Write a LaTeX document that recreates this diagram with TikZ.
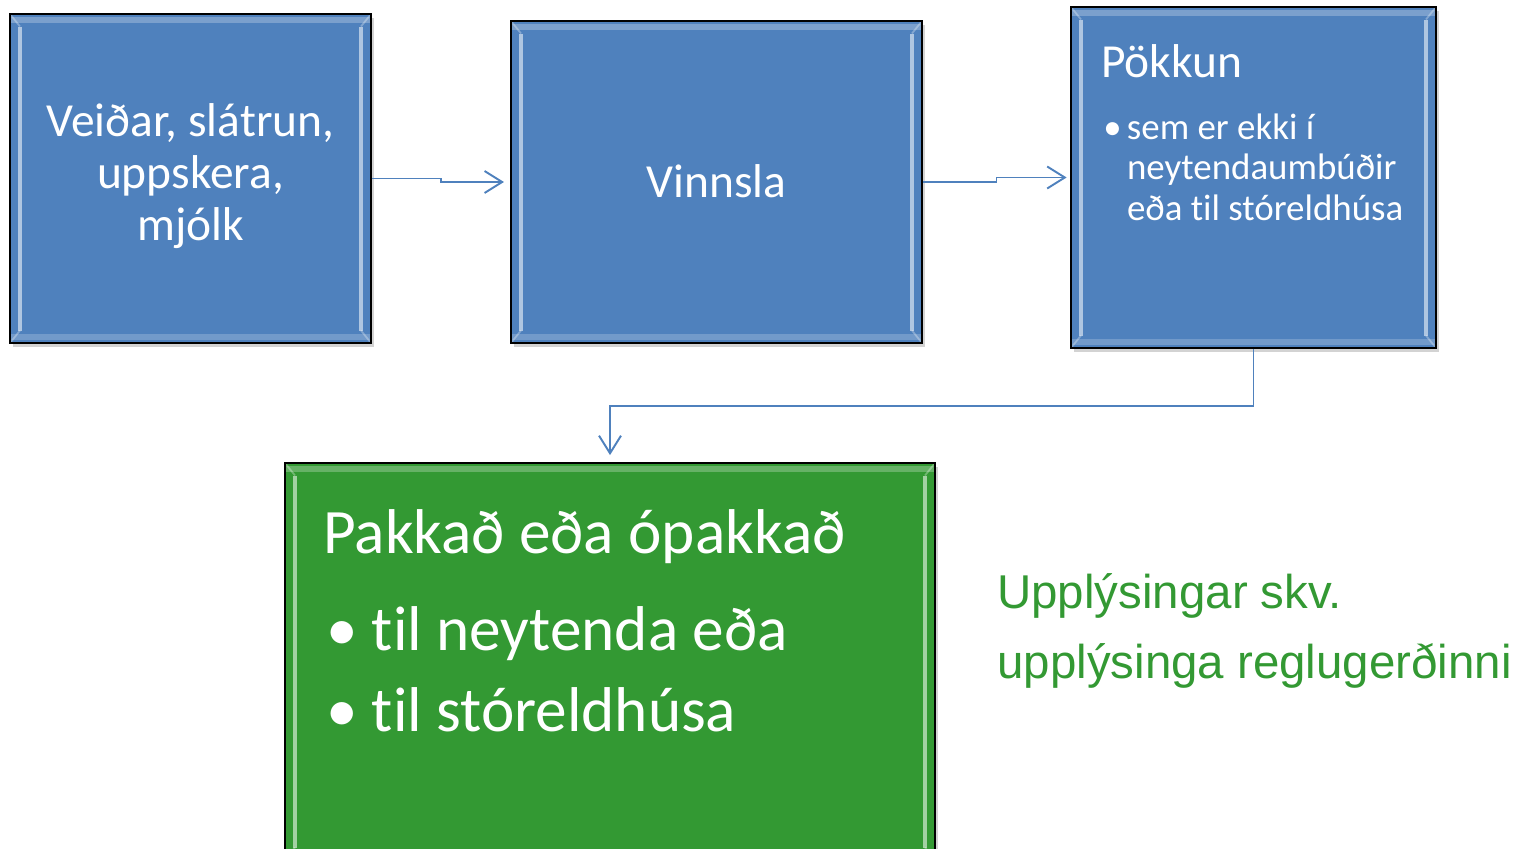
\documentclass[tikz,border=0pt]{standalone}
\usepackage{fontspec}
\setmainfont{Carlito}[Ligatures=NoCommon]
\newfontfamily\arialfont{Liberation Sans}
\usetikzlibrary{calc,shadows,arrows.meta}
\definecolor{boxblue}{RGB}{79,129,189}
\definecolor{boxgreen}{RGB}{51,153,51}
\definecolor{linkblue}{RGB}{79,129,189}
\tikzset{
  bevel/.style={draw=black,line width=1pt,fill=#1,
    drop shadow={opacity=0.35,shadow xshift=0.06,shadow yshift=-0.08},
    path picture={
      \draw[white,opacity=0.55,line width=2.2pt]
        ([shift={(0.2,-0.25)}]path picture bounding box.north west) -- ([shift={(0.2,0.25)}]path picture bounding box.south west)
        ([shift={(-0.2,-0.25)}]path picture bounding box.north east) -- ([shift={(-0.2,0.25)}]path picture bounding box.south east);
      \draw[white,opacity=0.3,line width=1pt]
        (path picture bounding box.north west) -- ([shift={(0.2,-0.25)}]path picture bounding box.north west)
        (path picture bounding box.south west) -- ([shift={(0.2,0.25)}]path picture bounding box.south west)
        (path picture bounding box.north east) -- ([shift={(-0.2,-0.25)}]path picture bounding box.north east)
        (path picture bounding box.south east) -- ([shift={(-0.2,0.25)}]path picture bounding box.south east);
      \draw[white,opacity=0.25,line width=3pt]
        ([yshift=-0.12cm]path picture bounding box.north west) -- ([yshift=-0.12cm]path picture bounding box.north east);
      \draw[white,opacity=0.2,line width=3pt]
        ([yshift=0.12cm]path picture bounding box.south west) -- ([yshift=0.12cm]path picture bounding box.south east);
    }},
  link/.style={draw=linkblue,line width=1.1pt,-{Straight Barb[length=10pt,width=12.5pt]}},
  boxtext/.style={text=white,inner sep=0pt}
}
\begin{document}
\begin{tikzpicture}
	   \clip (0,0) rectangle (30.64,-16.96);
	   % boxes
	   \node [bevel=boxblue,minimum width=7.22cm,minimum height=6.58cm] (veidar) at (3.81,-3.57) {};
	   \node [bevel=boxblue,minimum width=8.22cm,minimum height=6.44cm] (vinnsla) at (14.33,-3.64) {};
	   \node [bevel=boxblue,minimum width=7.30cm,minimum height=6.82cm] (pokkun) at (25.07,-3.55) {};
	   \node [bevel=boxgreen,minimum width=13.0cm,minimum height=7.94cm] (pakkad) at (12.20,-13.23) {};
	   % texts
	   \node [boxtext,align=center,font=\fontsize{27}{29.5}\selectfont] (veidarT) at (3.81,-3.52) {Veiðar, slátrun,\\uppskera,\\mjólk};
	   \node [boxtext,font=\fontsize{27}{30}\selectfont] (vinnslaT) at (14.33,-3.62) {Vinnsla};
	   \node [boxtext,anchor=base west,font=\fontsize{27}{30}\selectfont] (pokkunT) at (22.02,-1.54) {Pökkun};
	   \node [boxtext,anchor=base west,font=\fontsize{21}{23.2}\selectfont] (pokkunL) at (22.06,-2.78)
	     {\begin{tabular}[t]{@{}l@{\hspace{3pt}}l@{}}•&sem er ekki í\\&neytendaumbúðir\\&eða til stóreldhúsa\end{tabular}};
	   \node [boxtext,anchor=base west,font=\fontsize{36}{40}\selectfont] (pakkadT) at (6.46,-11.06) {Pakkað eða ópakkað};
	   \node [boxtext,anchor=base west,font=\fontsize{36}{46.5}\selectfont] (pakkadL) at (6.52,-13.00)
	     {\begin{tabular}[t]{@{}l@{\hspace{8pt}}l@{}}•&til neytenda eða\\•&til stóreldhúsa\end{tabular}};
	   \node [anchor=base west,inner sep=0pt,align=left,text=boxgreen,font=\arialfont\fontsize{27}{39.7}\selectfont] (upplys) at (19.94,-13.56)
	     {Upplýsingar skv.\\upplýsinga reglugerðinni};
	   % links
	   \draw [link,shorten >=3.5pt] (veidar.east) -| ($(veidar.east)!.5!(vinnsla.west)$) |- (vinnsla.west);
	   \draw [link,shorten >=2pt] (vinnsla.east) -| ($(vinnsla.east)!.5!(pokkun.west)$) |- (pokkun.west);
	   \draw [link,shorten >=4pt] (pokkun.south) -- ++(0,-1.14) -| (pakkad.north);
	\end{tikzpicture}
\end{document}
